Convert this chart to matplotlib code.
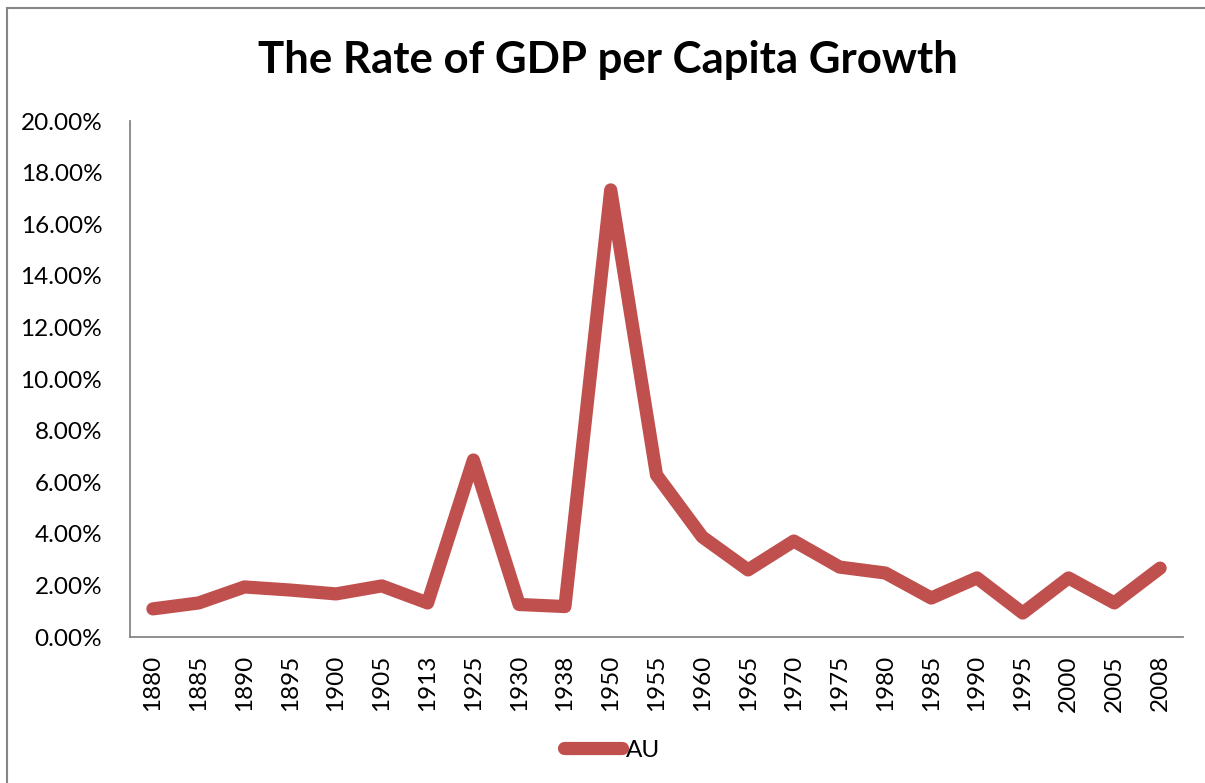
import matplotlib
matplotlib.use("Agg")
import matplotlib.pyplot as plt
from matplotlib.ticker import FuncFormatter
from matplotlib.patches import Rectangle

years = ["1880", "1885", "1890", "1895", "1900", "1905", "1913", "1925", "1930", "1938",
         "1950", "1955", "1960", "1965", "1970", "1975", "1980", "1985", "1990", "1995",
         "2000", "2005", "2008"]
au = [1.09, 1.32, 1.94, 1.82, 1.67, 1.98, 1.32, 6.86, 1.26, 1.18,
      17.33, 6.28, 3.88, 2.60, 3.72, 2.71, 2.48, 1.51, 2.29, 0.93,
      2.29, 1.32, 2.67]
yticks = [0, 2, 4, 6, 8, 10, 12, 14, 16, 18, 20]

plt.rcParams['font.family'] = ['Lato', 'DejaVu Sans']

fig = plt.figure(figsize=(12.05, 7.83), dpi=100)
ax = fig.add_axes([130/1205, 1-637/783, (1183-130)/1205, (637-121)/783])

x = list(range(len(years)))
line, = ax.plot(x, au, color="#C0504D", lw=9.5, solid_capstyle="round",
                solid_joinstyle="round", label="AU")

ax.set_xlim(-0.5, len(years) - 0.5)
ax.set_ylim(0, 20)
ax.set_yticks(yticks)
ax.yaxis.set_major_formatter(FuncFormatter(lambda v, p: f"{v:.2f}%"))
ax.set_xticks(x)
ax.set_xticklabels(years, rotation=90)
ax.tick_params(axis="both", labelsize=17.5, length=0)
ax.tick_params(axis="y", pad=20)
ax.tick_params(axis="x", pad=13)
for s in ["top", "right"]:
    ax.spines[s].set_visible(False)
for s in ["left", "bottom"]:
    ax.spines[s].set_color("#868686")
    ax.spines[s].set_linewidth(1.3)

fig.text(608/1205, 1-60/783, "The Rate of GDP per Capita Growth", ha="center", va="center",
         fontsize=31.5, fontweight="bold")

leg = fig.legend(handles=[line], labels=["AU"], loc="center", bbox_to_anchor=(612/1205, 1-750/783),
                 frameon=False, fontsize=17.5, handlelength=2.4, handletextpad=0.15)

fig.patches.append(Rectangle((7/1205, -0.1), 1.2, 1.1 - 8/783, transform=fig.transFigure,
                             fill=False, edgecolor="#868686", lw=1.5))

fig.savefig("out.png", dpi=100)
